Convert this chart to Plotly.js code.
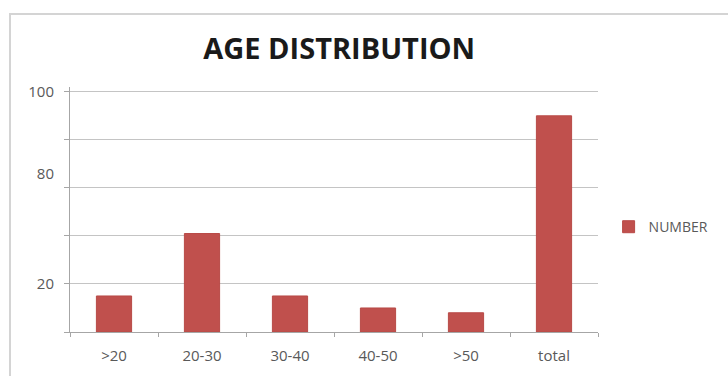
<!DOCTYPE html>
<html>
<head>
<meta charset="utf-8">
<script src="https://cdn.plot.ly/plotly-3.0.1.min.js"></script>
<style>
  html, body { margin: 0; padding: 0; background: #ffffff; }
  #frame { position: absolute; left: 9px; top: 13px; width: 730px; height: 380px;
           border-left: 2px solid #d4d4d4; border-top: 2px solid #d4d4d4; box-sizing: border-box; }
  #chart { position: absolute; left: 0; top: 0; width: 728px; height: 376px; }
</style>
</head>
<body>
<div id="frame"></div>
<div id="chart"></div>
<script>
// Data
const categories = [">20", "20-30", "30-40", "40-50", ">50", "total"];
const numberValues = [15, 41, 15, 10, 8, 90];
const seriesName = "NUMBER";
const yTickVals = [20, 66, 100];
const yTickText = ["20", "80", "100"];

const barColor = "#c0504d";
const gridColor = "#c4c4c4";
const textColor = "#595959";
const fontFam = "Open Sans, Liberation Sans, sans-serif";

const traces = [{
  type: "bar",
  name: seriesName,
  x: categories,
  y: numberValues,
  marker: { color: barColor, line: { color: "#b84a47", width: 1 } },
  hoverinfo: "x+y"
}, {
  type: "scatter",
  mode: "markers",
  x: categories,
  y: numberValues,
  yaxis: "y2",
  marker: { opacity: 0, size: 1 },
  showlegend: false,
  hoverinfo: "skip"
}];

const layout = {
  width: 728, height: 376,
  margin: { l: 70, r: 130, t: 87, b: 44 },
  paper_bgcolor: "rgba(0,0,0,0)",
  plot_bgcolor: "rgba(0,0,0,0)",
  bargap: 0.6,
  title: {
    text: "<b>AGE DISTRIBUTION</b>",
    font: { family: fontFam, size: 29, color: "#1a1a1a" },
    x: 0.466, xref: "container", xanchor: "center",
    y: 0.87, yref: "container", yanchor: "middle"
  },
  xaxis: {
    type: "category",
    showline: true, linecolor: "#a6a6a6", linewidth: 1,
    ticks: "outside", tickson: "boundaries", ticklen: 4, tickcolor: "#a6a6a6",
    showgrid: false,
    ticklabelstandoff: 10,
    tickfont: { family: fontFam, size: 15, color: textColor },
    fixedrange: true
  },
  yaxis: {
    range: [0, 102],
    tickmode: "array", tickvals: [0, 20, 40, 60, 80, 100],
    showgrid: true, gridcolor: gridColor, gridwidth: 1,
    showline: true, linecolor: "#a6a6a6", linewidth: 1,
    ticks: "outside", ticklen: 5, tickcolor: "#a6a6a6",
    showticklabels: false,
    zeroline: false,
    fixedrange: true
  },
  yaxis2: {
    overlaying: "y", side: "left",
    range: [0, 102],
    tickmode: "array", tickvals: yTickVals, ticktext: yTickText,
    ticks: "", showgrid: false, showline: false, zeroline: false,
    ticklabelstandoff: 15,
    tickfont: { family: fontFam, size: 15, color: textColor },
    fixedrange: true
  },
  showlegend: true,
  legend: {
    xref: "container", yref: "container",
    x: 0.836, xanchor: "left", y: 0.396, yanchor: "middle",
    font: { family: fontFam, size: 14, color: textColor },
    itemwidth: 30,
    bgcolor: "rgba(0,0,0,0)"
  }
};

Plotly.newPlot("chart", traces, layout, { displayModeBar: false, staticPlot: true });
</script>
</body>
</html>
